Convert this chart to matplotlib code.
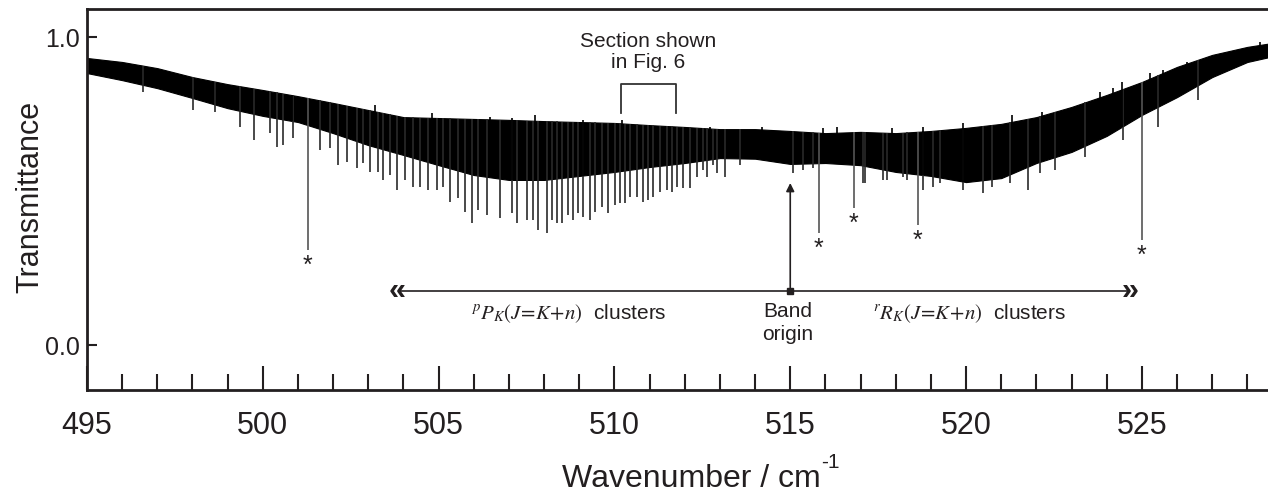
import matplotlib
matplotlib.use("Agg")
import matplotlib.pyplot as plt
import numpy as np

plt.rcParams['font.family'] = ['Liberation Sans', 'DejaVu Sans']

# envelope of the dense absorption band
env_wn = [495, 496, 497, 498, 499, 500, 501, 502, 503, 504, 505, 506, 507, 508,
          509, 510, 511, 512, 513, 514, 515, 516, 517, 518, 519, 520, 521, 522,
          523, 524, 525, 526, 527, 528, 528.9]
env_top = [0.932, 0.919, 0.899, 0.870, 0.847, 0.828, 0.808, 0.786, 0.763, 0.740,
           0.737, 0.734, 0.731, 0.727, 0.724, 0.721, 0.714, 0.708, 0.701, 0.701,
           0.695, 0.688, 0.692, 0.688, 0.695, 0.705, 0.718, 0.740, 0.773, 0.812,
           0.854, 0.903, 0.942, 0.968, 0.984]
env_bottom = [0.883, 0.860, 0.834, 0.802, 0.769, 0.744, 0.724, 0.688, 0.649, 0.617,
              0.584, 0.552, 0.536, 0.536, 0.549, 0.562, 0.578, 0.591, 0.607, 0.605,
              0.588, 0.591, 0.584, 0.562, 0.549, 0.529, 0.542, 0.591, 0.627, 0.679,
              0.747, 0.805, 0.870, 0.919, 0.942]

# resolved absorption lines below the band: position and minimum transmittance
line_wn = [496.59, 498.01, 498.64, 499.35, 499.75, 500.20, 500.40, 500.57, 500.86,
           501.62, 501.91, 502.14, 502.39, 502.68, 502.85, 503.05, 503.27, 503.42,
           503.62, 503.81, 504.04, 504.27, 504.47, 504.70, 504.95, 505.12, 505.32,
           505.55, 505.75, 505.95, 506.12, 506.37, 506.74, 507.08, 507.23, 507.51,
           507.68, 507.82, 508.08, 508.22, 508.36, 508.51, 508.68, 508.82, 508.96,
           509.10, 509.30, 509.44, 509.64, 509.81, 510.01, 510.16, 510.30, 510.44,
           510.64, 510.81, 510.95, 511.09, 511.29, 511.49, 511.63, 511.78, 511.95,
           512.15, 512.34, 512.52, 512.63, 512.80, 512.91, 513.14, 513.57, 515.07,
           515.36, 515.64, 517.06, 517.12, 517.63, 517.75, 518.20, 518.32, 518.77,
           519.05, 519.25, 519.91, 520.48, 520.73, 521.24, 521.76, 522.10, 522.52,
           523.38, 524.46, 525.45, 526.59]
line_min = [0.821, 0.763, 0.756, 0.708, 0.666, 0.688, 0.643, 0.649, 0.672,
            0.633, 0.640, 0.584, 0.594, 0.575, 0.591, 0.562, 0.562, 0.536,
            0.552, 0.503, 0.536, 0.513, 0.513, 0.503, 0.503, 0.513, 0.464,
            0.477, 0.432, 0.396, 0.438, 0.422, 0.412, 0.429, 0.396, 0.406,
            0.406, 0.373, 0.364, 0.406, 0.396, 0.396, 0.422, 0.406, 0.429,
            0.416, 0.406, 0.432, 0.448, 0.429, 0.455, 0.461, 0.461, 0.481,
            0.481, 0.464, 0.471, 0.481, 0.497, 0.503, 0.497, 0.513, 0.510,
            0.510, 0.545, 0.568, 0.545, 0.584, 0.558, 0.545, 0.584, 0.558,
            0.568, 0.575, 0.526, 0.526, 0.536, 0.536, 0.545, 0.536, 0.503,
            0.513, 0.526, 0.503, 0.494, 0.513, 0.526, 0.503, 0.558, 0.568,
            0.610, 0.666, 0.708, 0.795]

# taller lines sticking out above the band
tip_wn = [496.51, 499.83, 500.83, 503.19, 504.81, 506.46, 507.08, 507.74, 509.10,
          510.21, 512.71, 514.19, 515.93, 516.33, 517.89, 518.77, 519.91, 521.30,
          522.15, 523.80, 524.17, 524.43, 525.22, 525.59, 526.28, 527.70, 528.35]
tip_max = [0.899, 0.818, 0.812, 0.779, 0.753, 0.740, 0.737, 0.747, 0.731,
           0.731, 0.708, 0.708, 0.705, 0.708, 0.705, 0.708, 0.721, 0.747,
           0.756, 0.821, 0.834, 0.854, 0.883, 0.893, 0.919, 0.958, 0.984]

# lines marked with an asterisk
star_wn = [501.28, 515.81, 516.81, 518.63, 525.0]
star_min = [0.308, 0.364, 0.445, 0.390, 0.341]

band_origin = 515.0
arrow_level = 0.175
arrow_tip = 0.526
p_end, r_end = 503.81, 524.66
section = [510.20, 511.74]

xticks = [495, 500, 505, 510, 515, 520, 525]
xminor = list(range(495, 529))
yticks = [0.0, 1.0]
ytick_labels = ['0.0', '1.0']

ink = '#231f20'

fig = plt.figure(figsize=(12.68, 4.96), dpi=100)
ax = fig.add_axes([87 / 1268, 1 - 390 / 496, 1192 / 1268, 381 / 496])

ax.fill_between(env_wn, env_bottom, env_top, color='black', lw=0.8, edgecolor='black')
top_at_lines = np.interp(line_wn, env_wn, env_top)
ax.vlines(line_wn, line_min, top_at_lines, color='#2a2a2a', lw=1.2)
bottom_at_tips = np.interp(tip_wn, env_wn, env_bottom)
ax.vlines(tip_wn, bottom_at_tips, tip_max, color='black', lw=1.2)

top_at_stars = np.interp(star_wn, env_wn, env_top)
ax.vlines(star_wn, star_min, top_at_stars, color='#555555', lw=1.2)
for x, y in zip(star_wn, star_min):
    ax.text(x, y - 0.012, '*', ha='center', va='top', fontsize=18, color=ink)

# band origin arrow and cluster arrows
ax.annotate('', xy=(band_origin, arrow_tip), xytext=(band_origin, arrow_level),
            arrowprops=dict(arrowstyle='-|>', color=ink, lw=1.2, mutation_scale=12,
                            shrinkA=0, shrinkB=0))
ax.plot([p_end + 0.05, r_end - 0.05], [arrow_level, arrow_level], color=ink, lw=1.2)
ax.plot([band_origin], [arrow_level], marker='s', ms=4, color=ink)
ax.text(p_end, arrow_level, '\u00ab', ha='center', va='center', fontsize=22,
        fontweight='bold', color=ink)
ax.text(r_end, arrow_level, '\u00bb', ha='center', va='center', fontsize=22,
        fontweight='bold', color=ink)

ax.text(505.92, 0.084, r'${}^{p}P_{K}(J\!=\!K\!+\!n)$  clusters', ha='left',
        va='baseline', fontsize=15, color=ink, math_fontfamily='stix')
ax.text(517.35, 0.084, r'${}^{r}R_{K}(J\!=\!K\!+\!n)$  clusters', ha='left',
        va='baseline', fontsize=15, color=ink, math_fontfamily='stix')
ax.text(514.94, 0.071, 'Band\norigin', ha='center', va='center', fontsize=15,
        linespacing=1.25, color=ink)

# section bracket
ax.plot([section[0], section[0], section[1], section[1]], [0.753, 0.847, 0.847, 0.753],
        color='#333333', lw=1.3)
ax.text(sum(section) / 2, 0.951, 'Section shown\nin Fig. 6', ha='center', va='center',
        fontsize=15, linespacing=1.1, color=ink)

ax.set_xlim(495, 528.9)
ax.set_ylim(-0.146, 1.091)
ax.set_xticks(xticks)
ax.set_xticks(xminor, minor=True)
ax.set_yticks(yticks)
ax.set_yticklabels(ytick_labels)
ax.tick_params(axis='x', which='major', direction='in', length=17, width=1.5,
               labelsize=22, pad=15, color=ink, labelcolor=ink)
ax.tick_params(axis='x', which='minor', direction='in', length=11.5, width=1.5, color=ink)
ax.tick_params(axis='y', direction='in', length=7.5, width=1.5, labelsize=18, pad=5,
               color=ink, labelcolor=ink)
for side in ['top', 'left', 'bottom']:
    ax.spines[side].set_linewidth(2)
    ax.spines[side].set_color(ink)
ax.spines['right'].set_visible(False)

fig.text(30 / 1268, 1 - 197 / 496, 'Transmittance', rotation=90, ha='center',
         va='center', fontsize=22, color=ink)
fig.text(562 / 1268, 1 - 487 / 496, 'Wavenumber / cm', ha='left',
         va='baseline', fontsize=23, color=ink)
fig.text(821 / 1268, 1 - 468 / 496, '-1', ha='left', va='baseline', fontsize=15,
         color=ink)

fig.savefig('out.png', dpi=100)
